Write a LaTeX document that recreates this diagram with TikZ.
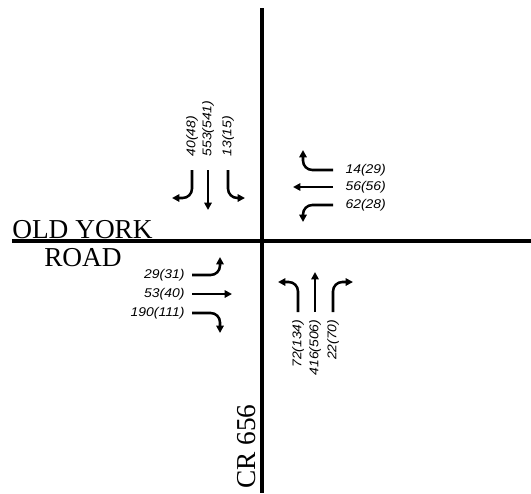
\documentclass[tikz,border=0pt]{standalone}
\usepackage{fontspec}
\setmainfont{Liberation Serif}
\newfontfamily\lblfont[FakeStretch=1.1]{Liberation Sans}
\usepackage{tikz}
\usetikzlibrary{arrows.meta}

\begin{document}
\begin{tikzpicture}[x=0.75pt,y=-0.75pt,
  road/.style={line width=2.4pt},
  mv/.style={-{Triangle[length=5.5pt,width=5.5pt]},line width=1.9pt,rounded corners=7pt},
  vol/.style={font=\lblfont\itshape\fontsize{9.5}{10}\selectfont,inner sep=1pt},
  rname/.style={font=\fontsize{20.5}{22}\selectfont,inner sep=0pt}
]
  \useasboundingbox (0,0) rectangle (531,493);

  \draw[road] (262,8) -- (262,493);
  \draw[road] (12,241) -- (531,241);

  \node[rname,anchor=base west](oy) at (12,238) {OLD YORK};
  \node[rname,anchor=base west](rd) at (44,266) {ROAD};
  \node[rname,rotate=90,anchor=base west](cr) at (255,489) {CR 656};

  % southbound
  \draw[mv] (192,170) |- (172,198);
  \draw[mv] (208,170) -- (208,210);
  \draw[mv] (228,170) |- (245,198);
  \node[vol,rotate=90,anchor=west](sbR) at (192,158) {40(48)};
  \node[vol,rotate=90,anchor=west](sbT) at (208,158) {553(541)};
  \node[vol,rotate=90,anchor=west](sbL) at (228,158) {13(15)};

  % westbound
  \draw[mv] (333,170) -| (303,150);
  \draw[mv] (333,187) -- (293,187);
  \draw[mv] (333,205) -| (303,222);
  \node[vol,anchor=west](wbR) at (344,170) {14(29)};
  \node[vol,anchor=west](wbT) at (344,187) {56(56)};
  \node[vol,anchor=west](wbL) at (344,205) {62(28)};

  % eastbound
  \draw[mv] (192,275) -| (220,257);
  \draw[mv] (192,294) -- (232,294);
  \draw[mv] (192,313) -| (220,333);
  \node[vol,anchor=east](ebL) at (186,275) {29(31)};
  \node[vol,anchor=east](ebT) at (186,294) {53(40)};
  \node[vol,anchor=east](ebR) at (186,313) {190(111)};

  % northbound
  \draw[mv] (298,312) |- (278,282);
  \draw[mv] (315,312) -- (315,272);
  \draw[mv] (333,312) |- (353,282);
  \node[vol,rotate=90,anchor=east](nbL) at (298,318) {72(134)};
  \node[vol,rotate=90,anchor=east](nbT) at (315,318) {416(506)};
  \node[vol,rotate=90,anchor=east](nbR) at (333,318) {22(70)};
\end{tikzpicture}
\end{document}
